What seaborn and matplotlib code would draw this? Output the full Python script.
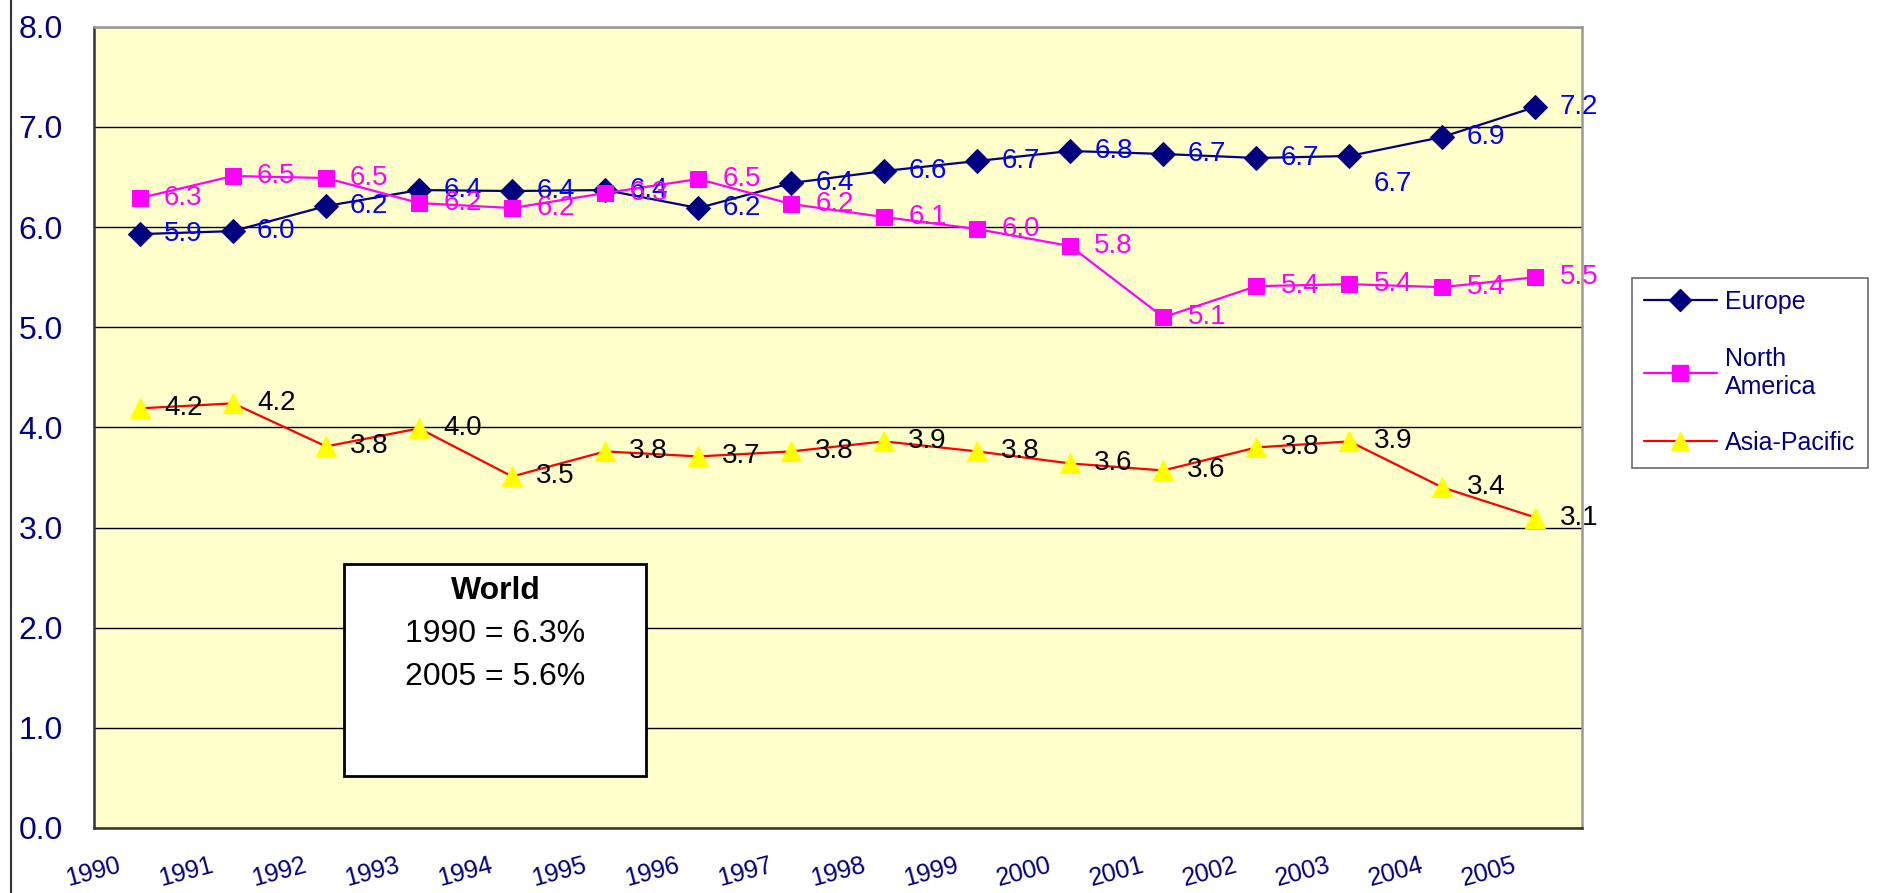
import numpy as np
import pandas as pd
import matplotlib
matplotlib.use("Agg")
import matplotlib.pyplot as plt
import matplotlib.transforms as mtransforms
from matplotlib.patches import Rectangle
from matplotlib.lines import Line2D
import seaborn as sns

years = [str(y) for y in range(1990, 2006)]
europe = [5.93, 5.96, 6.21, 6.37, 6.36, 6.37, 6.19, 6.44, 6.56, 6.66, 6.76, 6.73, 6.69, 6.71, 6.90, 7.20]
north_america = [6.29, 6.51, 6.49, 6.24, 6.19, 6.34, 6.48, 6.23, 6.10, 5.98, 5.81, 5.10, 5.41, 5.43, 5.40, 5.50]
asia_pacific = [4.19, 4.24, 3.81, 3.99, 3.51, 3.76, 3.71, 3.76, 3.86, 3.76, 3.64, 3.57, 3.80, 3.86, 3.40, 3.10]
world_lines = ["1990 = 6.3%", "2005 = 5.6%"]

series = [
    # name, values, line colour, marker, marker face, label colour
    ("Europe", europe, "#000080", "D", "#000080", "#0000FF"),
    ("North\nAmerica", north_america, "#FF00FF", "s", "#FF00FF", "#FF00FF"),
    ("Asia-Pacific", asia_pacific, "#FF0000", "^", "#FFFF00", "#000000"),
]

sns.set_theme(style="white")
plt.rcParams["font.family"] = ["Liberation Sans", "DejaVu Sans"]

fig = plt.figure(figsize=(18.82, 8.93), dpi=100)
ax = fig.add_axes([0.0497, 0.0728, 0.7909, 0.8972])
ax.set_facecolor("#FFFFCC")

x = np.arange(len(years))
handles = []
for name, vals, lc, mk, mf, tc in series:
    df = pd.DataFrame({"x": x, "y": vals})
    sns.lineplot(data=df, x="x", y="y", ax=ax, color=lc, linewidth=1.6,
                 marker=mk, markersize={"D": 12, "s": 11, "^": 14}[mk],
                 markerfacecolor=mf, markeredgecolor=mf, legend=False)
    for i, v in enumerate(vals):
        dy = 0
        if name == "Europe" and years[i] == "2003":
            dy = -28
        ax.annotate(f"{v:.1f}", (x[i], v), xytext=(24, dy), textcoords="offset pixels",
                    ha="left", va="center", fontsize=20, color=tc)
    handles.append(Line2D([0], [0], color=lc, linewidth=1.6, marker=mk,
                          markersize={"D": 11, "s": 11, "^": 13}[mk],
                          markerfacecolor=mf, markeredgecolor=mf, label=name))

ax.set_xlim(-0.5, len(years) - 0.5)
ax.set_ylim(0, 8)
ax.set_yticks(np.arange(0, 9, 1))
ax.set_yticklabels([f"{t:.1f}" for t in np.arange(0, 9, 1)], fontsize=23, color="#000080")
ax.yaxis.grid(True, color="black", linewidth=1.0)
ax.xaxis.grid(False)

ax.set_xticks(np.arange(-0.5, len(years), 1))
ax.set_xticklabels(years + [""], fontsize=18, color="#000080", rotation=15, ha="center")
offset = mtransforms.ScaledTranslation(0.02, 0, fig.dpi_scale_trans)
for lab in ax.get_xticklabels():
    lab.set_transform(lab.get_transform() + offset)
ax.tick_params(axis="x", direction="out", length=8, width=1, color="black", pad=10)
ax.tick_params(axis="y", direction="out", length=8, width=1, color="black", pad=14)
ax.set_xlabel("")
ax.set_ylabel("")

for side in ["left", "bottom"]:
    ax.spines[side].set_color("#333333")
    ax.spines[side].set_linewidth(1.8)
for side in ["top", "right"]:
    ax.spines[side].set_color("#999999")
    ax.spines[side].set_linewidth(1.8)

# World summary box
ax.add_patch(Rectangle((0.1685, 0.0644), 0.2025, 0.2646, transform=ax.transAxes,
                       facecolor="white", edgecolor="black", linewidth=2, zorder=5))
ax.text(0.27, 0.296, "World", transform=ax.transAxes, ha="center", va="center",
        fontsize=23, fontweight="bold", color="black", zorder=6)
for k, line in enumerate(world_lines):
    ax.text(0.27, 0.2425 - k * 0.054, line, transform=ax.transAxes, ha="center",
            va="center", fontsize=23, color="black", zorder=6)

leg = fig.legend(handles=handles, loc="upper left", bbox_to_anchor=(0.867, 0.689),
                 frameon=True, fontsize=18, labelspacing=1.3, handlelength=2.9,
                 handletextpad=0.35, borderpad=0.5, borderaxespad=0, fancybox=False)
leg.get_frame().set_edgecolor("#444444")
leg.get_frame().set_linewidth(1.2)
for t in leg.get_texts():
    t.set_color("#000080")

fig.add_artist(Line2D([0.006, 0.006], [0.0, 1.0], color="#333333", linewidth=1.5,
                      transform=fig.transFigure))

fig.savefig("out.png", dpi=100, facecolor="white")
